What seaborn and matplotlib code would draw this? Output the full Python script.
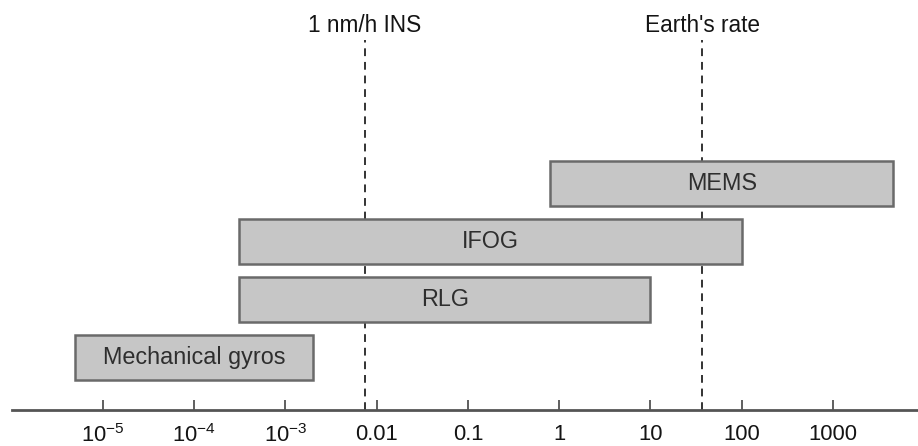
import numpy as np
import pandas as pd
import matplotlib
matplotlib.use("Agg")
import matplotlib.pyplot as plt
import matplotlib.transforms as mtransforms
import seaborn as sns

# ---- data ----
technologies = ["MEMS", "IFOG", "RLG", "Mechanical gyros"]
range_low = [0.8, 3.1e-4, 3.1e-4, 4.9e-6]
range_high = [4600.0, 100.0, 10.0, 2.0e-3]
reference_names = ["1 nm/h INS", "Earth's rate"]
reference_values = [0.0074, 37.0]
tick_values = [1e-5, 1e-4, 1e-3, 1e-2, 1e-1, 1, 10, 100, 1000]
tick_labels = [r"$\mathregular{10^{-5}}$", r"$\mathregular{10^{-4}}$",
               r"$\mathregular{10^{-3}}$", "0.01", "0.1", "1", "10", "100", "1000"]

sns.set_theme(style="white")
plt.rcParams["font.family"] = ["Liberation Sans", "DejaVu Sans"]
plt.rcParams["mathtext.fontset"] = "custom"
plt.rcParams["mathtext.rm"] = "Liberation Sans"
plt.rcParams["mathtext.it"] = "Liberation Sans:italic"
plt.rcParams["mathtext.bf"] = "Liberation Sans:bold"

df = pd.DataFrame({
    "tech": technologies,
    "low": range_low,
    "high": range_high,
})
df["span"] = df["high"] - df["low"]

fig = plt.figure(figsize=(9.18, 4.46), dpi=100)
ax = fig.add_axes([12 / 918, 36 / 446, 906 / 918, 370 / 446])
ax.set_xscale("log")

sns.barplot(data=df, y="tech", x="span", orient="h", order=technologies,
            left=df["low"].values, color="#c6c6c6", edgecolor="#6a6a6a",
            linewidth=1.8, width=0.78, errorbar=None, ax=ax, saturation=1)

for bar in ax.patches:
    bar.set_facecolor("#c6c6c6")

# labels inside bars (centered in log space)
for i, (name, lo, hi) in enumerate(zip(technologies, range_low, range_high)):
    ax.text(np.sqrt(lo * hi), i, name, ha="center", va="center",
            fontsize=16.8, color="#2e2e2e")

# reference dashed lines
trans = mtransforms.blended_transform_factory(ax.transData, ax.transAxes)
for name, v in zip(reference_names, reference_values):
    ax.axvline(v, color="#333333", lw=1.4, ls=(0, (4, 3)), zorder=0)
    ax.text(v, 1.038, name, transform=trans, ha="center", va="center",
            fontsize=16.3, color="#141414", clip_on=False)

ax.set_xlim(10 ** -5.997, 10 ** 3.932)
ax.set_ylim(3.9, -2.48)
ax.set_yticks([])
ax.set_ylabel("")
ax.set_xlabel("")
ax.set_xticks(tick_values)
ax.set_xticklabels(tick_labels)
ax.minorticks_off()
ax.tick_params(axis="x", direction="in", length=7, width=1.2, color="#444444",
               labelsize=15.8, labelcolor="#141414", pad=10, bottom=True)
for s in ["top", "left", "right"]:
    ax.spines[s].set_visible(False)
ax.spines["bottom"].set_color("#555555")
ax.spines["bottom"].set_linewidth(2)

fig.savefig("out.png", dpi=100)
